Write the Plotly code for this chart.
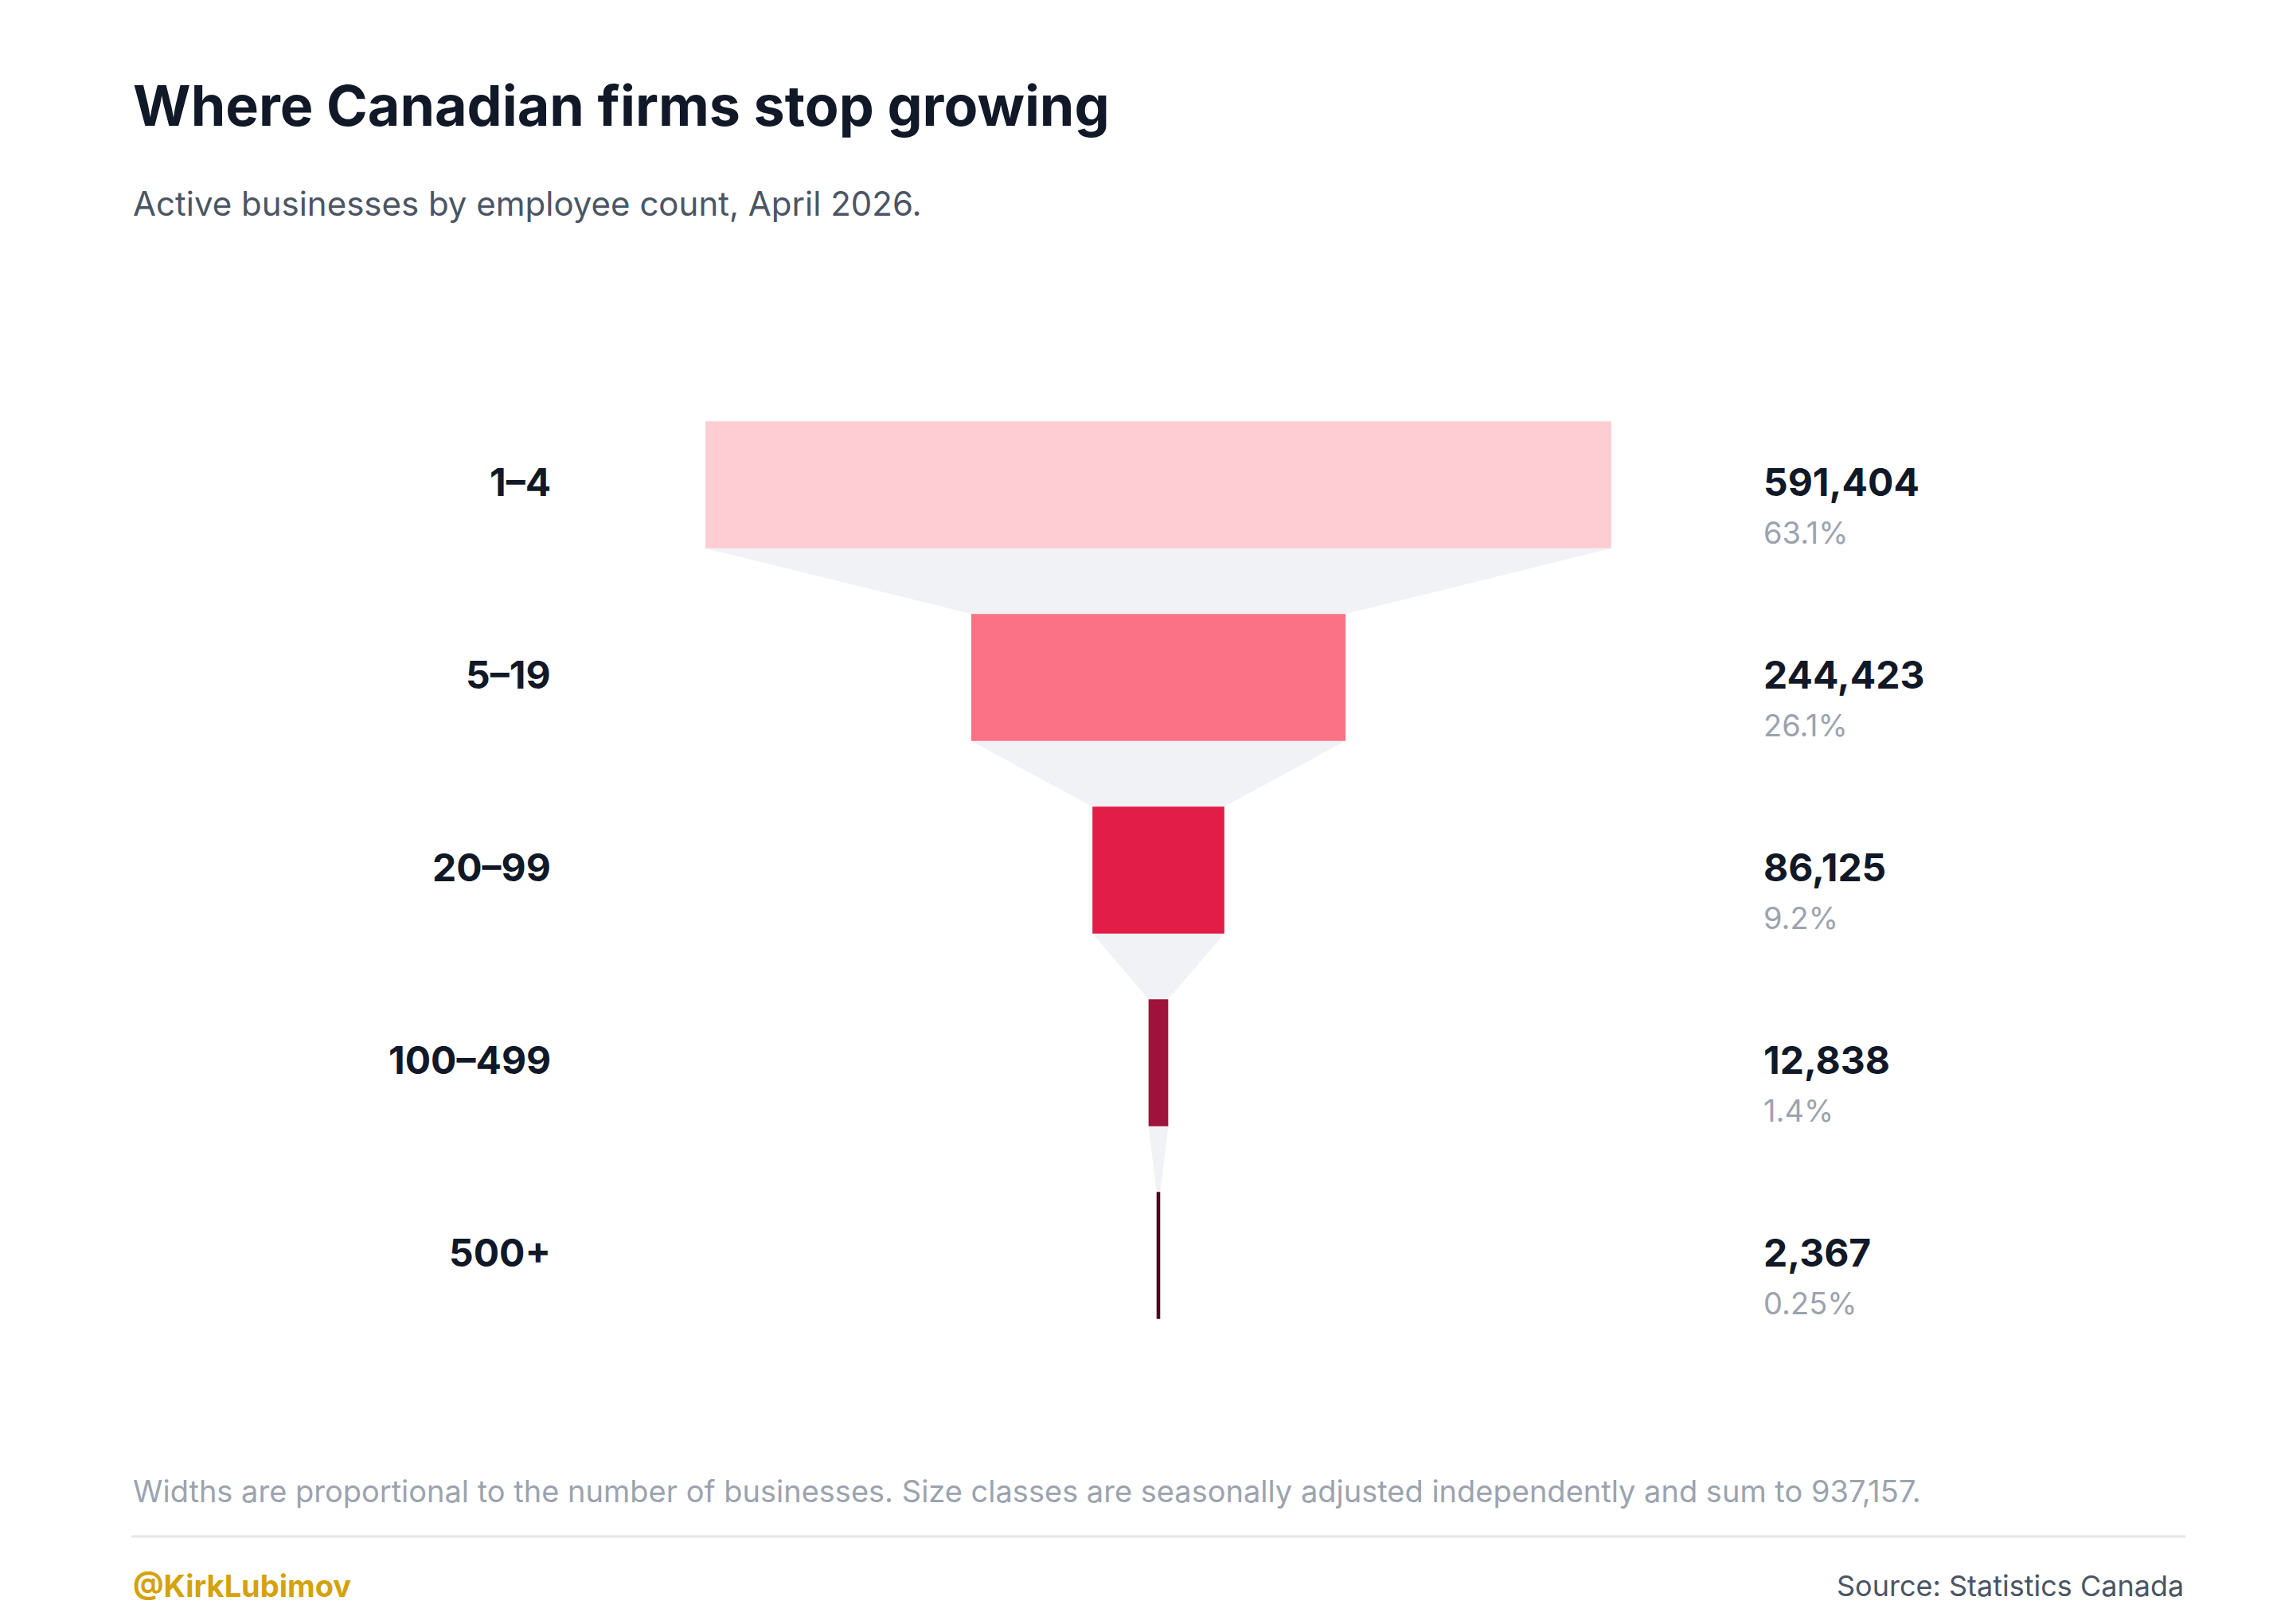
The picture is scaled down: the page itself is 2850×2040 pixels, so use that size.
import plotly.graph_objects as go

categories = ["1–4", "5–19", "20–99", "100–499", "500+"]
values = [591404, 244423, 86125, 12838, 2367]
value_labels = ["591,404", "244,423", "86,125", "12,838", "2,367"]
pct_labels = ["63.1%", "26.1%", "9.2%", "1.4%", "0.25%"]
colors = ["#fecdd3", "#fb7185", "#e11d48", "#9f1239", "#4c0519"]

W, H = 2850, 2040
L, R, T, B = 815, 2079, 480, 1690

def px(x):
    return (x - L) / (R - L)

def py(y):
    return (B - y) / (B - T)

fig = go.Figure(go.Funnel(
    y=categories, x=values, orientation="h",
    marker=dict(color=colors, line=dict(width=0)),
    connector=dict(fillcolor="#f1f2f6", line=dict(width=0)),
    textinfo="none", hoverinfo="skip",
))

half = values[0] / 2
fig.update_layout(
    width=W, height=H, margin=dict(l=L, r=W - R, t=T, b=H - B),
    paper_bgcolor="white", plot_bgcolor="white", showlegend=False,
    funnelgap=0.34,
    font=dict(family="Inter", color="#111827"),
    xaxis=dict(visible=False, range=[-half, half] if False else None),
    yaxis=dict(visible=False, range=[4.5, -0.5]),
)

ann = []
for c, v, p in zip(categories, value_labels, pct_labels):
    ann.append(dict(x=px(686), xref="paper", y=c, yref="y", text=f"<b>{c}</b>",
                    xanchor="right", showarrow=False, yshift=4,
                    font=dict(size=48, color="#111827")))
    ann.append(dict(x=px(2205), xref="paper", y=c, yref="y", text=f"<b>{v}</b>",
                    xanchor="left", showarrow=False, yshift=4,
                    font=dict(size=48, color="#111827")))
    ann.append(dict(x=px(2205), xref="paper", y=c, yref="y", text=p,
                    xanchor="left", showarrow=False, yshift=-60,
                    font=dict(size=38, color="#9ca3af")))

ann += [
    dict(x=px(157), y=py(124), xref="paper", yref="paper", xanchor="left", yanchor="middle",
         text="<b>Where Canadian firms stop growing</b>", showarrow=False,
         font=dict(size=70, color="#111827")),
    dict(x=px(157), y=py(247), xref="paper", yref="paper", xanchor="left", yanchor="middle",
         text="Active businesses by employee count, April 2026.", showarrow=False,
         font=dict(size=42, color="#4b5563")),
    dict(x=px(157), y=py(1865), xref="paper", yref="paper", xanchor="left", yanchor="middle",
         text="Widths are proportional to the number of businesses. Size classes are seasonally adjusted independently and sum to 937,157.",
         showarrow=False, font=dict(size=38, color="#9ca3af")),
    dict(x=px(157), y=py(1984), xref="paper", yref="paper", xanchor="left", yanchor="middle",
         text="<b>@KirkLubimov</b>", showarrow=False, font=dict(size=38, color="#d4a20c")),
    dict(x=px(2737), y=py(1984), xref="paper", yref="paper", xanchor="right", yanchor="middle",
         text="Source: Statistics Canada", showarrow=False, font=dict(size=36, color="#4b5563")),
]
fig.update_layout(annotations=ann)
fig.add_shape(type="line", xref="paper", yref="paper", x0=px(157), x1=px(2737),
              y0=py(1922), y1=py(1922), line=dict(color="#e5e7eb", width=3))
fig.write_html("out.html")
